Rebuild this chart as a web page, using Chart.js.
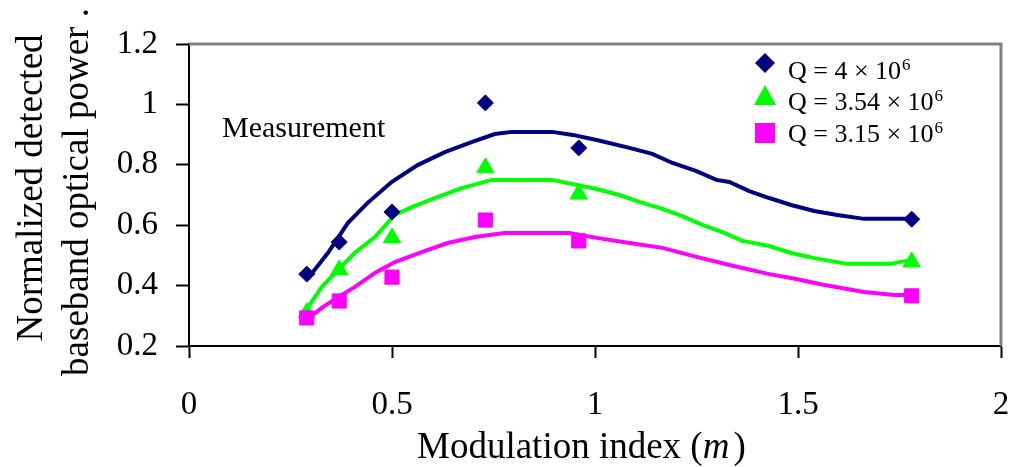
<!DOCTYPE html>
<html><head><meta charset="utf-8">
<script src="https://cdn.jsdelivr.net/npm/chart.js@4.4.1/dist/chart.umd.min.js"></script>
<style>html,body{margin:0;padding:0;background:#fff;}</style>
</head><body>
<canvas id="c" width="1017" height="467" style="width:1017px;height:467px;display:block"></canvas>
<script>
// ---- data ----
const seriesLabels = ['Q = 4 \u00d7 10', 'Q = 3.54 \u00d7 10', 'Q = 3.15 \u00d7 10'];
const seriesExponent = '6';
const annotationText = 'Measurement';
const xTitleMain = 'Modulation index (';
const xTitleVar = 'm';
const xTitleEnd = ')';
const yTitleLines = ['Normalized detected', 'baseband optical power .'];

const measuredX = [0.29, 0.37, 0.5, 0.73, 0.96, 1.78];
const measuredQ1 = [0.438, 0.544, 0.644, 1.005, 0.856, 0.62];
const measuredQ2 = [0.31, 0.452, 0.558, 0.79, 0.703, 0.478];
const measuredQ3 = [0.293, 0.349, 0.428, 0.617, 0.548, 0.366];

const fitQ1X = [0.290,0.342,0.391,0.440,0.499,0.563,0.630,0.696,0.753,0.795,0.895,0.945,1.004,1.085,1.141,1.191,1.250,1.299,1.331,1.380,1.429,1.483,1.540,1.597,1.663,1.781];
const fitQ1Y = [0.419,0.508,0.607,0.674,0.743,0.799,0.842,0.875,0.902,0.909,0.909,0.899,0.882,0.856,0.836,0.806,0.779,0.750,0.743,0.713,0.690,0.667,0.647,0.634,0.621,0.621];
const fitQ2X = [0.285,0.327,0.367,0.408,0.458,0.507,0.549,0.605,0.672,0.745,0.895,0.945,1.004,1.060,1.109,1.166,1.215,1.264,1.314,1.363,1.429,1.483,1.540,1.621,1.729,1.761,1.781];
const fitQ2Y = [0.313,0.395,0.452,0.508,0.561,0.634,0.660,0.690,0.723,0.750,0.750,0.736,0.720,0.700,0.677,0.654,0.630,0.601,0.577,0.548,0.531,0.508,0.491,0.472,0.472,0.481,0.481];
const fitQ3X = [0.290,0.327,0.367,0.408,0.458,0.507,0.573,0.637,0.704,0.777,0.937,1.004,1.085,1.166,1.250,1.331,1.429,1.483,1.565,1.663,1.737,1.781];
const fitQ3Y = [0.286,0.326,0.362,0.395,0.442,0.478,0.511,0.541,0.561,0.574,0.574,0.558,0.541,0.525,0.495,0.468,0.438,0.425,0.402,0.379,0.369,0.369];

const xTickValues = [0, 0.5, 1, 1.5, 2];
const xTickLabels = ['0', '0.5', '1', '1.5', '2'];
const yTickValues = [0.2, 0.4, 0.6, 0.8, 1.0, 1.2];
const yTickLabels = ['0.2', '0.4', '0.6', '0.8', '1', '1.2'];

// ---- styles ----
const COL = ['#000080', '#00ff00', '#ff00ff'];
const FONT = 'Liberation Serif';
const pairs = (xs, ys) => xs.map((x, i) => ({x: x, y: ys[i]}));

const lineDs = (xs, ys, c, o) => ({type: 'scatter', data: pairs(xs, ys), showLine: true, borderColor: c, borderWidth: 4,
  pointRadius: 0, pointHoverRadius: 0, tension: 0, fill: false, order: o});
const markDs = (ys, c, style, r, o) => ({type: 'scatter', data: pairs(measuredX, ys), showLine: false,
  pointStyle: style, pointRadius: r, pointHoverRadius: r, backgroundColor: c, borderColor: c, borderWidth: 1, order: o});

const decor = {
  id: 'decor',
  afterDraw(chart) {
    const ctx = chart.ctx, a = chart.chartArea;
    ctx.save();
    // gray frame top/right
    ctx.strokeStyle = '#808080'; ctx.lineWidth = 3;
    ctx.beginPath(); ctx.moveTo(a.left, a.top); ctx.lineTo(a.right, a.top); ctx.lineTo(a.right, a.bottom); ctx.stroke();
    ctx.fillStyle = '#000';
    // annotation
    ctx.font = '30px "' + FONT + '"'; ctx.textAlign = 'left'; ctx.textBaseline = 'alphabetic';
    ctx.fillText(annotationText, 222, 137);
    // legend
    const ly = [63, 96, 133], bl = [79, 110, 142];
    for (let i = 0; i < 3; i++) {
      ctx.fillStyle = COL[i];
      ctx.beginPath();
      if (i === 0) { ctx.moveTo(765, ly[i]-10); ctx.lineTo(775, ly[i]); ctx.lineTo(765, ly[i]+10); ctx.lineTo(755, ly[i]); }
      else if (i === 1) { ctx.moveTo(765, ly[i]-11); ctx.lineTo(776, ly[i]+9); ctx.lineTo(754, ly[i]+9); }
      else { ctx.rect(755, ly[i]-10, 20, 20); }
      ctx.closePath(); ctx.fill();
      ctx.fillStyle = '#000';
      ctx.font = '26px "' + FONT + '"';
      ctx.fillText(seriesLabels[i], 788, bl[i]);
      const w = ctx.measureText(seriesLabels[i]).width;
      ctx.font = '17px "' + FONT + '"';
      ctx.fillText(seriesExponent, 788 + w + 1, bl[i] - 9);
    }
    // x title
    ctx.font = '37px "' + FONT + '"';
    let x = 417;
    ctx.fillText(xTitleMain, x, 458); x += ctx.measureText(xTitleMain).width;
    ctx.font = 'italic 37px "' + FONT + '"';
    ctx.fillText(xTitleVar, x, 458); x += ctx.measureText(xTitleVar).width + 4;
    ctx.font = '37px "' + FONT + '"';
    ctx.fillText(xTitleEnd, x, 458);
    // y title
    ctx.textAlign = 'center';
    const yc = [188, 192], xb = [42, 88];
    for (let i = 0; i < 2; i++) {
      ctx.save(); ctx.translate(0, yc[i]); ctx.rotate(-Math.PI / 2);
      ctx.fillText(yTitleLines[i], 0, xb[i]);
      ctx.restore();
    }
    ctx.restore();
  }
};

new Chart(document.getElementById('c'), {
  type: 'scatter',
  data: {datasets: [
    markDs(measuredQ3, COL[2], 'rect', 10, 0),
    markDs(measuredQ2, COL[1], 'triangle', 10, 1),
    markDs(measuredQ1, COL[0], 'rectRot', 8, 2),
    lineDs(fitQ3X, fitQ3Y, COL[2], 3),
    lineDs(fitQ2X, fitQ2Y, COL[1], 4),
    lineDs(fitQ1X, fitQ1Y, COL[0], 5)
  ]},
  options: {
    responsive: false, animation: false, devicePixelRatio: 1,
    layout: {padding: {top: 44, right: 16, left: 0, bottom: 0}},
    plugins: {legend: {display: false}, tooltip: {enabled: false}},
    scales: {
      x: {type: 'linear', min: 0, max: 2,
        afterBuildTicks: s => { s.ticks = xTickValues.map(v => ({value: v})); },
        afterFit: s => { s.height = 121; s.paddingLeft = 0; s.paddingRight = 0; },
        ticks: {callback: (v, i) => xTickLabels[i], font: {family: FONT, size: 33}, color: '#000', padding: 28, maxRotation: 0, autoSkip: false},
        grid: {display: true, drawOnChartArea: false, drawTicks: true, tickLength: 12, tickWidth: 2, tickColor: '#000'},
        border: {display: true, color: '#000', width: 2}
      },
      y: {type: 'linear', min: 0.2, max: 1.2,
        afterBuildTicks: s => { s.ticks = yTickValues.map(v => ({value: v})); },
        afterFit: s => { s.width = 189; s.paddingTop = 0; s.paddingBottom = 0; },
        ticks: {callback: (v, i) => yTickLabels[i], font: {family: FONT, size: 33}, color: '#000', padding: 18, autoSkip: false},
        grid: {display: true, drawOnChartArea: false, drawTicks: true, tickLength: 13, tickWidth: 2, tickColor: '#000'},
        border: {display: true, color: '#000', width: 2}
      }
    }
  },
  plugins: [decor]
});
</script>
</body></html>
